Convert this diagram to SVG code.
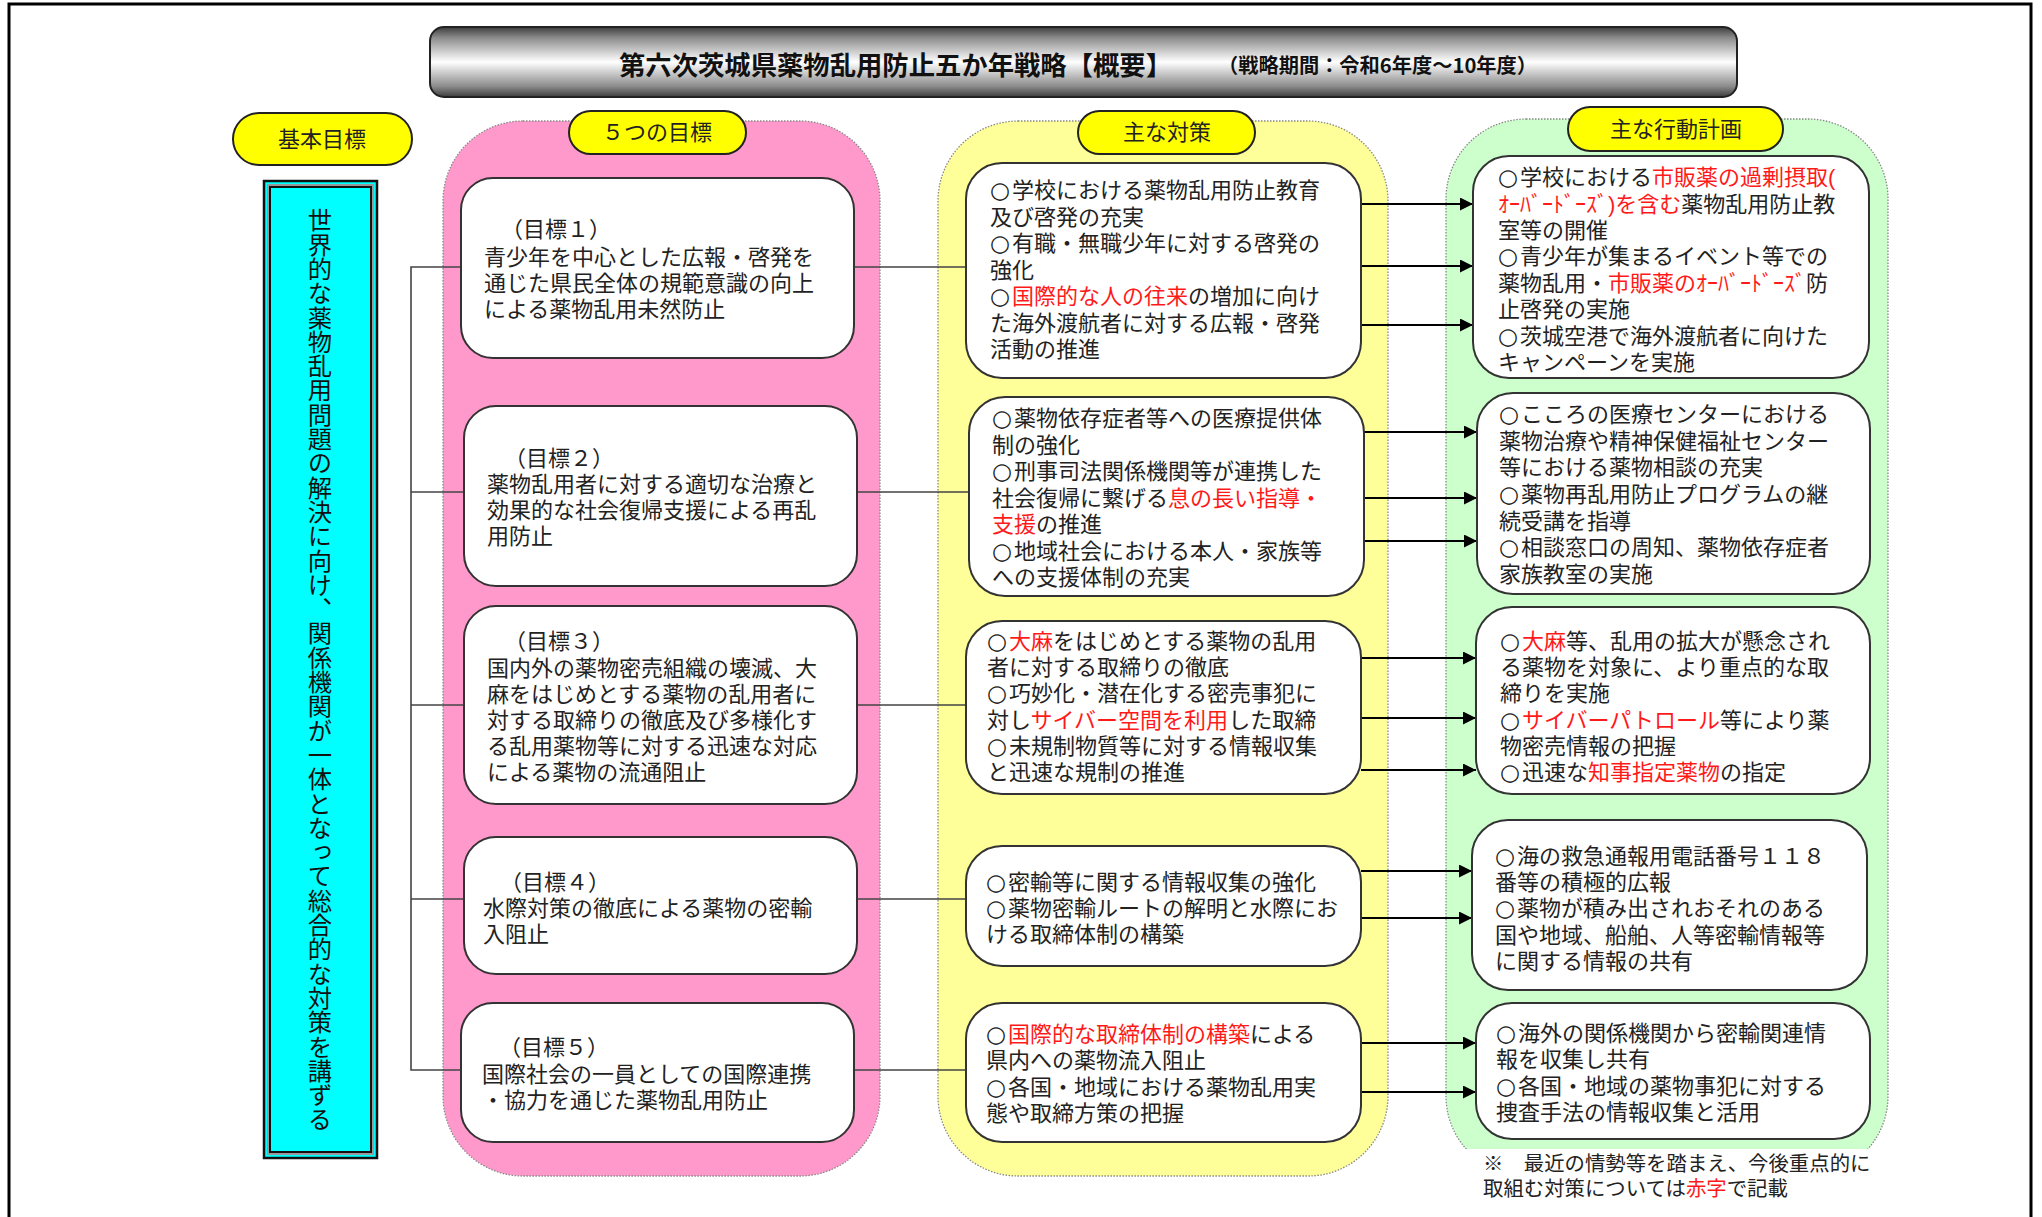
<svg xmlns="http://www.w3.org/2000/svg" width="2042" height="1217" viewBox="0 0 2042 1217">
<defs>
<linearGradient id="gTitle" x1="0" y1="0" x2="0" y2="1">
<stop offset="0" stop-color="#3c3c3c"/>
<stop offset="0.15" stop-color="#8a8a8a"/>
<stop offset="0.5" stop-color="#ffffff"/>
<stop offset="0.85" stop-color="#8a8a8a"/>
<stop offset="1" stop-color="#3c3c3c"/>
</linearGradient>
<marker id="arr" markerUnits="userSpaceOnUse" markerWidth="13" markerHeight="13" refX="13" refY="6.5" orient="auto">
<path d="M0,0 L13,6.5 L0,13 z" fill="#000"/>
</marker>
<style>
.t{font-family:"Liberation Sans","Noto Sans CJK JP","Noto Sans CJK SC",sans-serif;font-size:22px;fill:#222}
.c{font-family:"DejaVu Sans",sans-serif;font-size:23px}
.r{fill:#ff1a1a}
.pill{fill:#ffff00;stroke:#222;stroke-width:2}
.pt{font-family:"Noto Sans CJK JP",sans-serif;font-size:22px;fill:#222;text-anchor:middle}
.box{fill:#fff;stroke:#333;stroke-width:2}
.cont{stroke:#888;stroke-width:1.3;stroke-dasharray:1.5 1.5}
.ln{stroke:#444;stroke-width:1.6;fill:none}
.ar{stroke:#000;stroke-width:2;fill:none;marker-end:url(#arr)}
</style>
</defs>
<rect width="2042" height="1217" fill="#fff"/>
<!-- page frame -->
<path d="M9,1217 V4 H2031 V1217" fill="none" stroke="#000" stroke-width="3"/>

<!-- title -->
<g id="title">
<rect x="430" y="27" width="1307" height="70" rx="14" fill="url(#gTitle)" stroke="#222" stroke-width="2"/>
<text x="619" y="75" font-family="Noto Sans CJK JP,sans-serif" font-size="26" font-weight="bold" fill="#111" textLength="553" lengthAdjust="spacingAndGlyphs">第六次茨城県薬物乱用防止五か年戦略【概要】</text>
<text x="1218" y="73" font-family="Noto Sans CJK JP,sans-serif" font-size="20" font-weight="bold" fill="#111" textLength="319" lengthAdjust="spacingAndGlyphs">（戦略期間：令和6年度～10年度）</text>
</g>

<!-- containers -->
<g id="col-goals"><rect class="cont" x="443" y="121" width="437" height="1055" rx="80" fill="#ff99cc"/></g>
<g id="col-measures"><rect class="cont" x="938" y="121" width="450" height="1055" rx="80" fill="#ffff99"/></g>
<g id="col-actions"><rect class="cont" x="1446" y="119" width="442" height="1057" rx="80" fill="#ccffcc"/>
<rect x="1462" y="1149" width="440" height="60" fill="#fff"/></g>

<!-- header pills -->
<g id="pill-basic"><rect class="pill" x="233" y="113" width="179" height="52" rx="26"/><text class="pt" x="322" y="147">基本目標</text></g>
<g id="pill-goals"><rect class="pill" x="569" y="111" width="177" height="43" rx="21.5"/><text class="pt" x="657" y="140">５つの目標</text></g>
<g id="pill-measures"><rect class="pill" x="1078" y="111" width="177" height="43" rx="21.5"/><text class="pt" x="1167" y="140">主な対策</text></g>
<g id="pill-actions"><rect class="pill" x="1568" y="107" width="215" height="44" rx="22"/><text class="pt" x="1676" y="137">主な行動計画</text></g>

<!-- basic goal -->
<g id="basic-goal">
<rect x="264" y="181" width="113" height="977" fill="#00ffff" stroke="#111" stroke-width="2.5"/>
<rect x="268" y="185" width="105" height="969" fill="none" stroke="#999" stroke-width="2"/>
<rect x="270" y="187" width="101" height="965" fill="none" stroke="#111" stroke-width="2"/>
<text x="320" y="208" writing-mode="vertical-rl" font-family="Noto Sans CJK JP,sans-serif" font-size="24.3" fill="#111">世界的な薬物乱用問題の解決に向け、関係機関が一体となって総合的な対策を講ずる</text>
</g>

<!-- connectors -->
<g id="connectors">
<path class="ln" d="M461,267 H411 V1070 H461 M411,492 H464 M411,705 H464 M411,899 H464"/>
<path class="ln" d="M854,267 H966 M857,492 H969 M857,705 H966 M857,899 H966 M854,1070 H966"/>
<line class="ar" x1="1361" y1="204" x2="1473" y2="204"/>
<line class="ar" x1="1361" y1="266" x2="1473" y2="266"/>
<line class="ar" x1="1361" y1="325" x2="1473" y2="325"/>
<line class="ar" x1="1364" y1="432" x2="1477" y2="432"/>
<line class="ar" x1="1364" y1="498" x2="1477" y2="498"/>
<line class="ar" x1="1364" y1="541" x2="1477" y2="541"/>
<line class="ar" x1="1361" y1="658" x2="1476" y2="658"/>
<line class="ar" x1="1361" y1="718" x2="1476" y2="718"/>
<line class="ar" x1="1361" y1="770" x2="1476" y2="770"/>
<line class="ar" x1="1361" y1="871" x2="1472" y2="871"/>
<line class="ar" x1="1361" y1="918" x2="1472" y2="918"/>
<line class="ar" x1="1361" y1="1043" x2="1476" y2="1043"/>
<line class="ar" x1="1361" y1="1092" x2="1476" y2="1092"/>
</g>

<!-- goals -->
<g id="goal1"><rect class="box" x="461" y="178" width="393" height="180" rx="32"/>
<text class="t"><tspan x="501" y="237">（目標１）</tspan><tspan x="484" y="265">青少年を中心とした広報・啓発を</tspan><tspan x="484" y="291">通じた県民全体の規範意識の向上</tspan><tspan x="484" y="317">による薬物乱用未然防止</tspan></text></g>
<g id="goal2"><rect class="box" x="464" y="406" width="393" height="180" rx="32"/>
<text class="t"><tspan x="504" y="466">（目標２）</tspan><tspan x="487" y="492">薬物乱用者に対する適切な治療と</tspan><tspan x="487" y="518">効果的な社会復帰支援による再乱</tspan><tspan x="487" y="544">用防止</tspan></text></g>
<g id="goal3"><rect class="box" x="464" y="606" width="393" height="198" rx="32"/>
<text class="t"><tspan x="504" y="649">（目標３）</tspan><tspan x="487" y="676">国内外の薬物密売組織の壊滅、大</tspan><tspan x="487" y="702">麻をはじめとする薬物の乱用者に</tspan><tspan x="487" y="728">対する取締りの徹底及び多様化す</tspan><tspan x="487" y="754">る乱用薬物等に対する迅速な対応</tspan><tspan x="487" y="780">による薬物の流通阻止</tspan></text></g>
<g id="goal4"><rect class="box" x="464" y="837" width="393" height="137" rx="32"/>
<text class="t"><tspan x="500" y="890">（目標４）</tspan><tspan x="483" y="916">水際対策の徹底による薬物の密輸</tspan><tspan x="483" y="942">入阻止</tspan></text></g>
<g id="goal5"><rect class="box" x="461" y="1003" width="393" height="139" rx="32"/>
<text class="t"><tspan x="499" y="1055">（目標５）</tspan><tspan x="482" y="1082">国際社会の一員としての国際連携</tspan><tspan x="482" y="1108">・協力を通じた薬物乱用防止</tspan></text></g>

<!-- measures -->
<g id="measure1"><rect class="box" x="966" y="163" width="395" height="215" rx="36"/>
<text class="t"><tspan x="990" y="198" class="c">○</tspan><tspan x="1012" y="198">学校における薬物乱用防止教育</tspan><tspan x="990" y="224.5">及び啓発の充実</tspan><tspan x="990" y="251" class="c">○</tspan><tspan x="1012" y="251">有職・無職少年に対する啓発の</tspan><tspan x="990" y="277.5">強化</tspan><tspan x="990" y="304" class="c">○</tspan><tspan x="1012" y="304"><tspan class="r">国際的な人の往来</tspan>の増加に向け</tspan><tspan x="990" y="330.5">た海外渡航者に対する広報・啓発</tspan><tspan x="990" y="357">活動の推進</tspan></text></g>
<g id="measure2"><rect class="box" x="969" y="397" width="395" height="199" rx="36"/>
<text class="t"><tspan x="992" y="426" class="c">○</tspan><tspan x="1014" y="426">薬物依存症者等への医療提供体</tspan><tspan x="992" y="452.5">制の強化</tspan><tspan x="992" y="479" class="c">○</tspan><tspan x="1014" y="479">刑事司法関係機関等が連携した</tspan><tspan x="992" y="505.5">社会復帰に繋げる<tspan class="r">息の長い指導・</tspan></tspan><tspan x="992" y="532"><tspan class="r">支援</tspan>の推進</tspan><tspan x="992" y="558.5" class="c">○</tspan><tspan x="1014" y="558.5">地域社会における本人・家族等</tspan><tspan x="992" y="585">への支援体制の充実</tspan></text></g>
<g id="measure3"><rect class="box" x="966" y="621" width="395" height="173" rx="36"/>
<text class="t"><tspan x="987" y="649" class="c">○</tspan><tspan x="1009" y="649"><tspan class="r">大麻</tspan>をはじめとする薬物の乱用</tspan><tspan x="987" y="675">者に対する取締りの徹底</tspan><tspan x="987" y="701" class="c">○</tspan><tspan x="1009" y="701">巧妙化・潜在化する密売事犯に</tspan><tspan x="987" y="728">対し<tspan class="r">サイバー空間を利用</tspan>した取締</tspan><tspan x="987" y="754" class="c">○</tspan><tspan x="1009" y="754">未規制物質等に対する情報収集</tspan><tspan x="987" y="780">と迅速な規制の推進</tspan></text></g>
<g id="measure4"><rect class="box" x="966" y="846" width="395" height="120" rx="36"/>
<text class="t"><tspan x="986" y="890" class="c">○</tspan><tspan x="1008" y="890">密輸等に関する情報収集の強化</tspan><tspan x="986" y="916" class="c">○</tspan><tspan x="1008" y="916">薬物密輸ルートの解明と水際にお</tspan><tspan x="986" y="942">ける取締体制の構築</tspan></text></g>
<g id="measure5"><rect class="box" x="966" y="1003" width="395" height="139" rx="36"/>
<text class="t"><tspan x="986" y="1042" class="c">○</tspan><tspan x="1008" y="1042"><tspan class="r">国際的な取締体制の構築</tspan>による</tspan><tspan x="986" y="1068">県内への薬物流入阻止</tspan><tspan x="986" y="1095" class="c">○</tspan><tspan x="1008" y="1095">各国・地域における薬物乱用実</tspan><tspan x="986" y="1121">態や取締方策の把握</tspan></text></g>

<!-- actions -->
<g id="action1"><rect class="box" x="1473" y="156" width="396" height="222" rx="36"/>
<text class="t"><tspan x="1498" y="185" class="c">○</tspan><tspan x="1520" y="185">学校における<tspan class="r">市販薬の過剰摂取(</tspan></tspan><tspan x="1498" y="211.5"><tspan class="r">ｵｰﾊﾞｰﾄﾞｰｽﾞ)を含む</tspan>薬物乱用防止教</tspan><tspan x="1498" y="238">室等の開催</tspan><tspan x="1498" y="264" class="c">○</tspan><tspan x="1520" y="264">青少年が集まるイベント等での</tspan><tspan x="1498" y="290.5">薬物乱用・<tspan class="r">市販薬のｵｰﾊﾞｰﾄﾞｰｽﾞ</tspan>防</tspan><tspan x="1498" y="317">止啓発の実施</tspan><tspan x="1498" y="343.5" class="c">○</tspan><tspan x="1520" y="343.5">茨城空港で海外渡航者に向けた</tspan><tspan x="1498" y="370">キャンペーンを実施</tspan></text></g>
<g id="action2"><rect class="box" x="1477" y="393" width="393" height="201" rx="36"/>
<text class="t"><tspan x="1499" y="422" class="c">○</tspan><tspan x="1521" y="422">こころの医療センターにおける</tspan><tspan x="1499" y="449">薬物治療や精神保健福祉センター</tspan><tspan x="1499" y="475">等における薬物相談の充実</tspan><tspan x="1499" y="502" class="c">○</tspan><tspan x="1521" y="502">薬物再乱用防止プログラムの継</tspan><tspan x="1499" y="529">続受講を指導</tspan><tspan x="1499" y="555" class="c">○</tspan><tspan x="1521" y="555">相談窓口の周知、薬物依存症者</tspan><tspan x="1499" y="582">家族教室の実施</tspan></text></g>
<g id="action3"><rect class="box" x="1476" y="607" width="394" height="187" rx="36"/>
<text class="t"><tspan x="1500" y="649" class="c">○</tspan><tspan x="1522" y="649"><tspan class="r">大麻</tspan>等、乱用の拡大が懸念され</tspan><tspan x="1500" y="675">る薬物を対象に、より重点的な取</tspan><tspan x="1500" y="701">締りを実施</tspan><tspan x="1500" y="728" class="c">○</tspan><tspan x="1522" y="728"><tspan class="r">サイバーパトロール</tspan>等により薬</tspan><tspan x="1500" y="754">物密売情報の把握</tspan><tspan x="1500" y="780" class="c">○</tspan><tspan x="1522" y="780">迅速な<tspan class="r">知事指定薬物</tspan>の指定</tspan></text></g>
<g id="action4"><rect class="box" x="1472" y="820" width="395" height="170" rx="36"/>
<text class="t"><tspan x="1495" y="864" class="c">○</tspan><tspan x="1517" y="864">海の救急通報用電話番号１１８</tspan><tspan x="1495" y="890">番等の積極的広報</tspan><tspan x="1495" y="916" class="c">○</tspan><tspan x="1517" y="916">薬物が積み出されおそれのある</tspan><tspan x="1495" y="943">国や地域、船舶、人等密輸情報等</tspan><tspan x="1495" y="969">に関する情報の共有</tspan></text></g>
<g id="action5"><rect class="box" x="1476" y="1003" width="394" height="136" rx="36"/>
<text class="t"><tspan x="1496" y="1041" class="c">○</tspan><tspan x="1518" y="1041">海外の関係機関から密輸関連情</tspan><tspan x="1496" y="1067">報を収集し共有</tspan><tspan x="1496" y="1094" class="c">○</tspan><tspan x="1518" y="1094">各国・地域の薬物事犯に対する</tspan><tspan x="1496" y="1120">捜査手法の情報収集と活用</tspan></text></g>

<!-- note -->
<g id="note">
<text class="t" style="font-size:20.4px"><tspan x="1483" y="1171">※　最近の情勢等を踏まえ、今後重点的に</tspan><tspan x="1483" y="1196">取組む対策については<tspan class="r">赤字</tspan>で記載</tspan></text>
</g>
</svg>
